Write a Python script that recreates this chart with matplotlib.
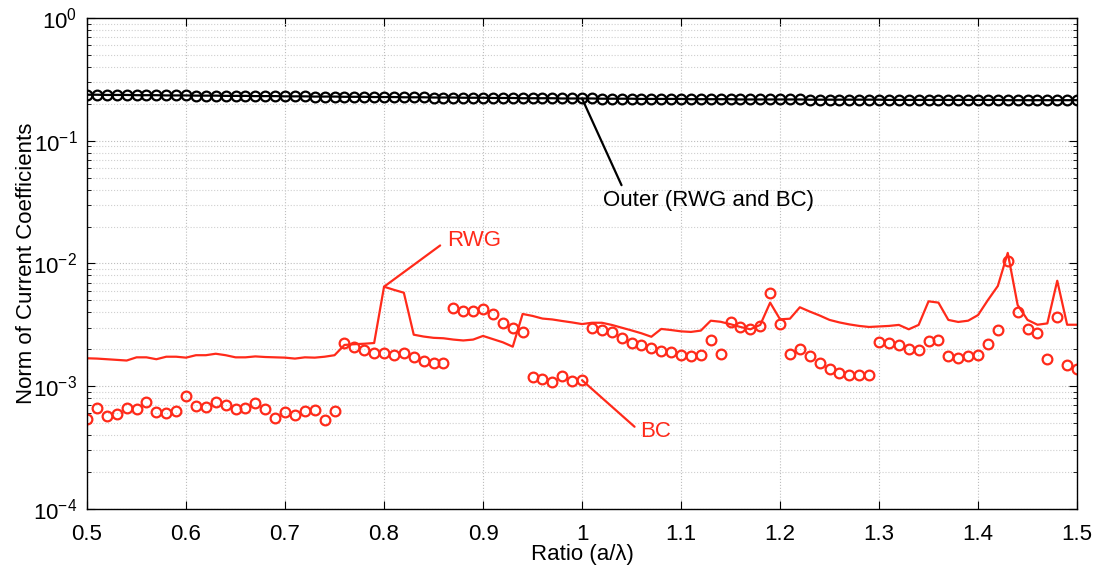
import numpy as np
import matplotlib
matplotlib.use("Agg")
import matplotlib.pyplot as plt

plt.rcParams['font.family'] = ['Liberation Sans', 'DejaVu Sans']
plt.rcParams['mathtext.default'] = 'regular'

# a/lambda ratio, 0.5 .. 1.5 in steps of 0.01
ratio = np.linspace(0.5, 1.5, 101)

# outer coefficients (same for RWG and BC)
outer = [0.237, 0.237, 0.236, 0.236, 0.236, 0.235, 0.235, 0.235, 0.234, 0.234,
         0.234, 0.233, 0.233, 0.233, 0.232, 0.232, 0.232, 0.231, 0.231, 0.231,
         0.230, 0.230, 0.230, 0.229, 0.229, 0.229, 0.228, 0.228, 0.228, 0.227,
         0.227, 0.227, 0.226, 0.226, 0.226, 0.225, 0.225, 0.225, 0.224, 0.224,
         0.224, 0.223, 0.223, 0.223, 0.222, 0.222, 0.222, 0.222, 0.221, 0.221,
         0.221, 0.221, 0.220, 0.220, 0.220, 0.220, 0.219, 0.219, 0.219, 0.219,
         0.219, 0.218, 0.218, 0.218, 0.218, 0.218, 0.217, 0.217, 0.217, 0.217,
         0.217, 0.217, 0.217, 0.216, 0.216, 0.216, 0.216, 0.216, 0.216, 0.216,
         0.216, 0.215, 0.215, 0.215, 0.215, 0.215, 0.215, 0.215, 0.215, 0.215,
         0.215, 0.215, 0.215, 0.214, 0.214, 0.214, 0.214, 0.214, 0.214, 0.214,
         0.214]

# RWG inner coefficients (solid red line)
rwg = [1.69e-3, 1.68e-3, 1.66e-3, 1.64e-3, 1.62e-3, 1.72e-3, 1.72e-3, 1.66e-3, 1.74e-3, 1.74e-3,
       1.71e-3, 1.79e-3, 1.79e-3, 1.84e-3, 1.79e-3, 1.72e-3, 1.72e-3, 1.75e-3, 1.73e-3, 1.72e-3,
       1.71e-3, 1.68e-3, 1.72e-3, 1.71e-3, 1.74e-3, 1.79e-3, 2.17e-3, 2.20e-3, 2.22e-3, 2.25e-3,
       6.47e-3, 6.10e-3, 5.78e-3, 2.63e-3, 2.54e-3, 2.48e-3, 2.46e-3, 2.40e-3, 2.36e-3, 2.40e-3,
       2.57e-3, 2.42e-3, 2.28e-3, 2.10e-3, 3.88e-3, 3.74e-3, 3.56e-3, 3.50e-3, 3.40e-3, 3.31e-3,
       3.21e-3, 3.29e-3, 3.29e-3, 3.16e-3, 3.00e-3, 2.85e-3, 2.70e-3, 2.53e-3, 2.93e-3, 2.87e-3,
       2.80e-3, 2.77e-3, 2.84e-3, 3.42e-3, 3.35e-3, 3.20e-3, 3.04e-3, 2.91e-3, 3.16e-3, 4.80e-3,
       3.51e-3, 3.55e-3, 4.40e-3, 4.06e-3, 3.77e-3, 3.47e-3, 3.31e-3, 3.19e-3, 3.10e-3, 3.04e-3,
       3.07e-3, 3.10e-3, 3.16e-3, 2.91e-3, 3.16e-3, 4.92e-3, 4.80e-3, 3.47e-3, 3.34e-3, 3.42e-3,
       3.80e-3, 5.04e-3, 6.56e-3, 1.22e-2, 4.59e-3, 3.47e-3, 3.17e-3, 3.25e-3, 7.24e-3, 3.17e-3,
       3.17e-3]

# BC inner coefficients (red circles)
bc = [5.44e-4, 6.61e-4, 5.73e-4, 5.98e-4, 6.61e-4, 6.49e-4, 7.45e-4, 6.14e-4, 6.02e-4, 6.32e-4,
      8.37e-4, 6.95e-4, 6.73e-4, 7.40e-4, 7.03e-4, 6.49e-4, 6.68e-4, 7.26e-4, 6.53e-4, 5.54e-4,
      6.17e-4, 5.83e-4, 6.32e-4, 6.35e-4, 5.28e-4, 6.32e-4, 2.24e-3, 2.08e-3, 1.97e-3, 1.88e-3,
      1.88e-3, 1.81e-3, 1.86e-3, 1.72e-3, 1.60e-3, 1.54e-3, 1.54e-3, 4.34e-3, 4.10e-3, 4.10e-3,
      4.28e-3, 3.88e-3, 3.30e-3, 2.98e-3, 2.77e-3, 1.18e-3, 1.14e-3, 1.09e-3, 1.22e-3, 1.11e-3,
      1.12e-3, 3.00e-3, 2.87e-3, 2.75e-3, 2.45e-3, 2.26e-3, 2.16e-3, 2.05e-3, 1.95e-3, 1.90e-3,
      1.81e-3, 1.76e-3, 1.81e-3, 2.38e-3, 1.82e-3, 3.34e-3, 3.04e-3, 2.93e-3, 3.11e-3, 5.75e-3,
      3.20e-3, 1.83e-3, 2.00e-3, 1.77e-3, 1.54e-3, 1.39e-3, 1.28e-3, 1.24e-3, 1.23e-3, 1.24e-3,
      2.29e-3, 2.24e-3, 2.16e-3, 2.02e-3, 1.97e-3, 2.32e-3, 2.38e-3, 1.77e-3, 1.70e-3, 1.77e-3,
      1.80e-3, 2.21e-3, 2.87e-3, 1.04e-2, 4.03e-3, 2.93e-3, 2.73e-3, 1.68e-3, 3.69e-3, 1.49e-3,
      1.37e-3]

red = '#ff2a1a'
fs = 16

fig = plt.figure(figsize=(10.95, 5.73), dpi=100)
ax = fig.add_axes([0.0795, 0.1117, 0.9041, 0.8569])

ax.semilogy(ratio, outer, 'o-', color='black', mfc='none', ms=7, mew=1.6, lw=1.6)
ax.semilogy(ratio, rwg, '-', color=red, lw=1.6)
ax.semilogy(ratio, bc, 'o', color=red, mfc='none', ms=7, mew=1.6)

ax.set_xlim(0.5, 1.5)
ax.set_ylim(1e-4, 1e0)
ax.set_xticks(np.arange(0.5, 1.51, 0.1))
ax.set_xticklabels(['0.5', '0.6', '0.7', '0.8', '0.9', '1', '1.1', '1.2', '1.3', '1.4', '1.5'])

ax.grid(True, which='major', linestyle=':', color='#bdbdbd', lw=0.8)
ax.grid(True, which='minor', axis='y', linestyle=':', color='#cfcfcf', lw=0.8)
ax.tick_params(which='both', direction='in', top=True, right=True, labelsize=fs)
ax.tick_params(which='major', length=6)
ax.tick_params(which='minor', length=3)
ax.tick_params(axis='x', pad=11)
ax.tick_params(axis='y', pad=7)
for s in ax.spines.values():
    s.set_linewidth(1.0)

ax.set_xlabel('Ratio (a/λ)', fontsize=fs, labelpad=-1)
ax.set_ylabel('Norm of Current Coefficients', fontsize=fs, labelpad=-3)

ax.annotate('Outer (RWG and BC)', xy=(1.0, outer[50]), xytext=(1.021, 0.0323),
            ha='left', va='center', fontsize=fs, color='black',
            arrowprops=dict(arrowstyle='-', color='black', lw=1.6, relpos=(0.1, 1.0),
                            shrinkA=2, shrinkB=0))
ax.annotate('RWG', xy=(0.80, rwg[30]), xytext=(0.864, 0.0155),
            ha='left', va='center', fontsize=fs, color=red,
            arrowprops=dict(arrowstyle='-', color=red, lw=1.6, relpos=(0.0, 0.5),
                            shrinkA=4, shrinkB=0))
ax.annotate('BC', xy=(1.0, bc[50]), xytext=(1.059, 4.24e-4),
            ha='left', va='center', fontsize=fs, color=red,
            arrowprops=dict(arrowstyle='-', color=red, lw=1.6, relpos=(0.0, 0.5),
                            shrinkA=3, shrinkB=0))

fig.savefig('out.png', dpi=100)
